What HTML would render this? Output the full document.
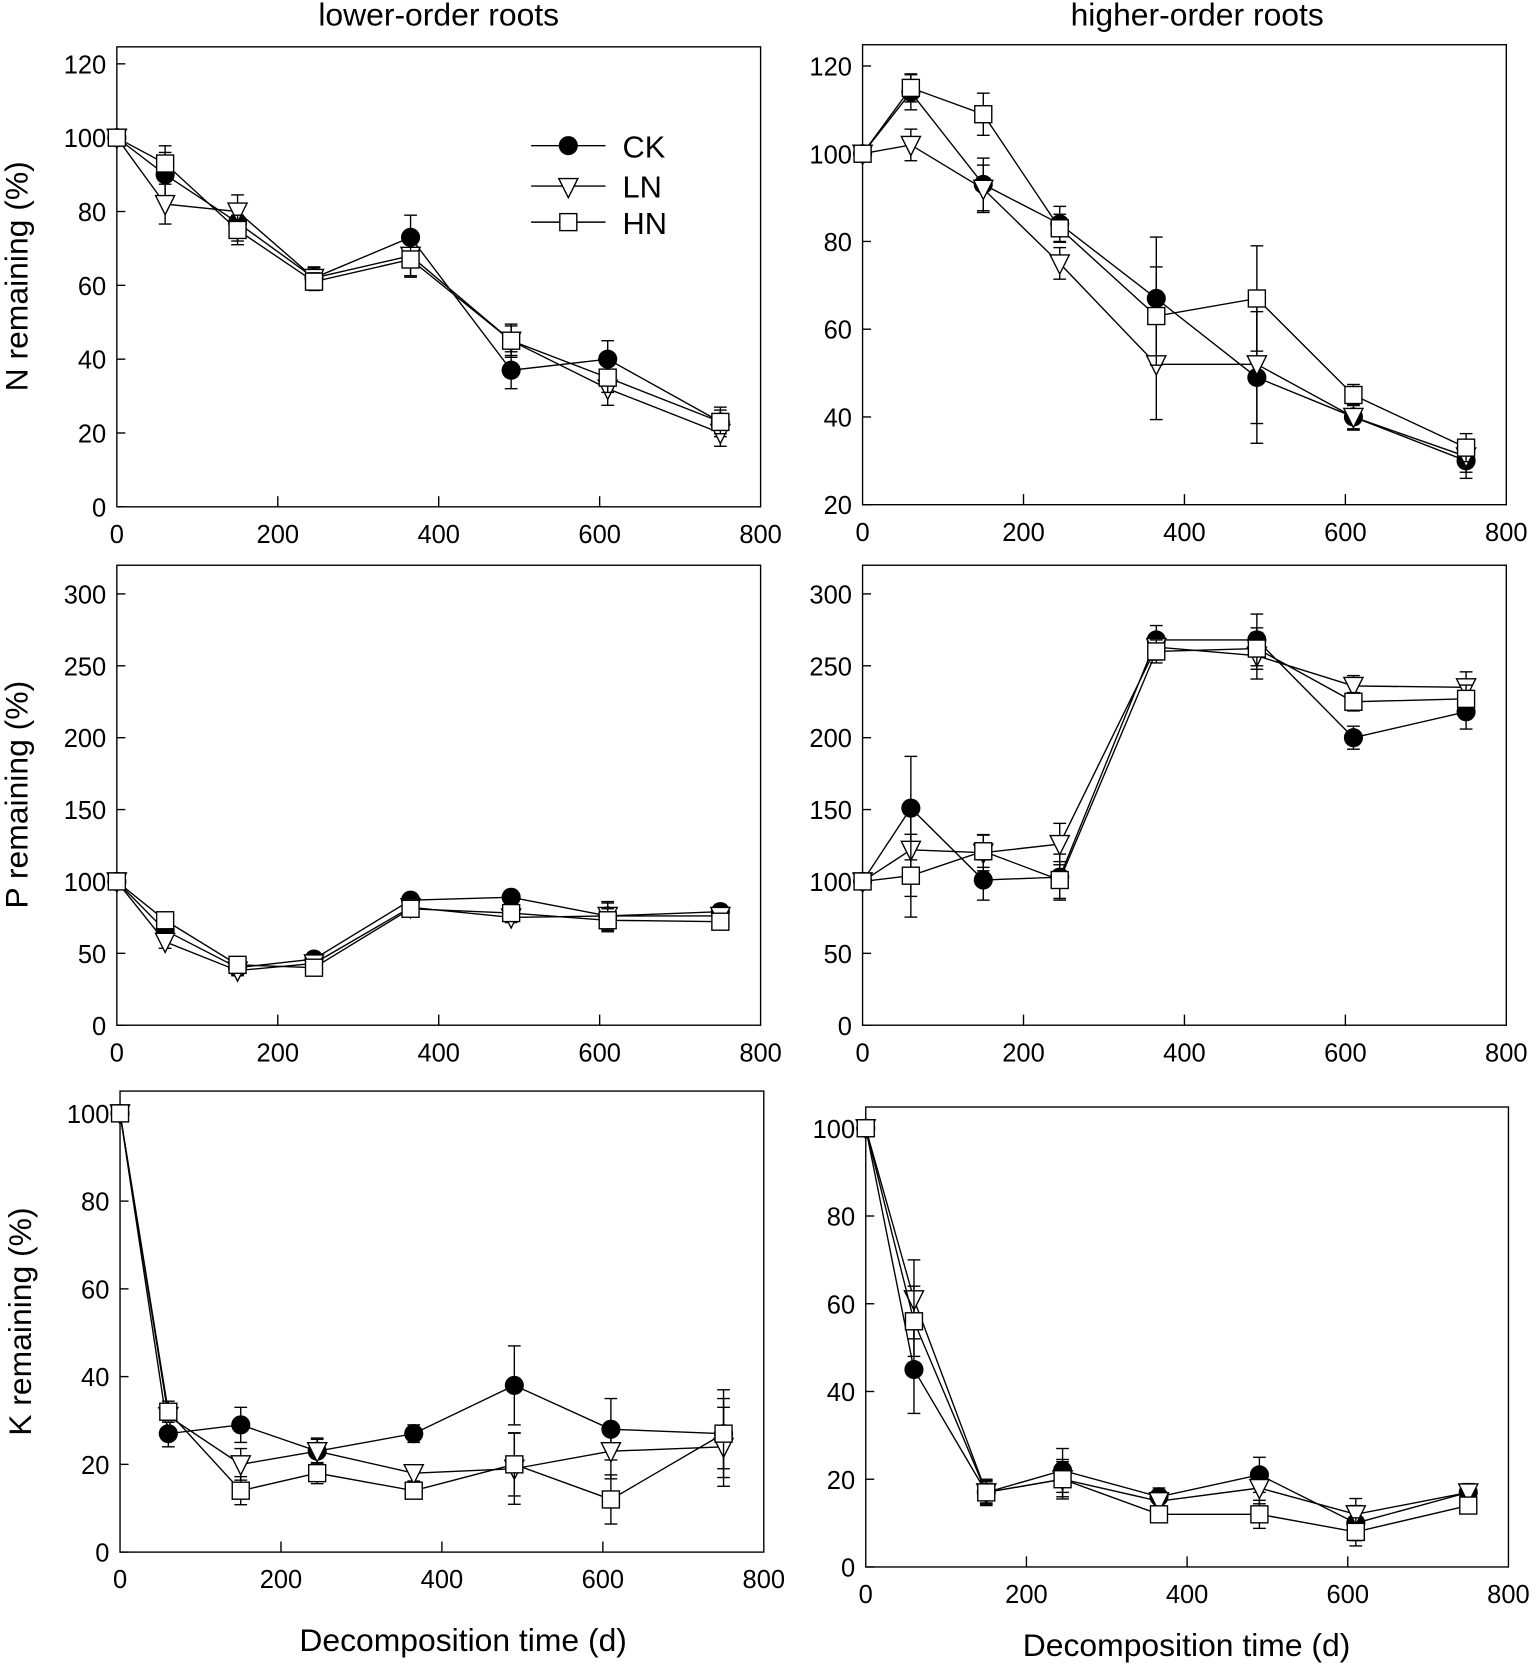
<!DOCTYPE html>
<html><head><meta charset="utf-8"><style>
html,body{margin:0;padding:0;background:#fff;}
svg{display:block;font-family:"Liberation Sans",Arial,sans-serif;}
</style></head><body>
<svg id="chart" width="1535" height="1668" viewBox="0 0 1445 1570" xmlns="http://www.w3.org/2000/svg">
<rect width="1445" height="1570" fill="#fff"/>
<text x="413" y="24" font-size="30" text-anchor="middle">lower-order roots</text>
<text x="1127" y="24" font-size="30" text-anchor="middle">higher-order roots</text>
<text transform="translate(26,260) rotate(-90)" font-size="30" text-anchor="middle">N remaining (%)</text>
<text transform="translate(26,748) rotate(-90)" font-size="30" text-anchor="middle">P remaining (%)</text>
<text transform="translate(29,1244) rotate(-90)" font-size="30" text-anchor="middle">K remaining (%)</text>
<text x="436" y="1554" font-size="30" text-anchor="middle">Decomposition time (d)</text>
<text x="1117" y="1559" font-size="30" text-anchor="middle">Decomposition time (d)</text>
<g>
<line x1="500" y1="137" x2="570" y2="137" stroke="#000" stroke-width="1.3"/><circle cx="535" cy="137" r="9" fill="#000"/><text x="586" y="148" font-size="29">CK</text>
<line x1="500" y1="175" x2="570" y2="175" stroke="#000" stroke-width="1.3"/><path d="M526,168 L544,168 L535,186 Z" fill="#fff" stroke="#000" stroke-width="1.3"/><text x="586" y="186" font-size="29">LN</text>
<line x1="500" y1="209" x2="570" y2="209" stroke="#000" stroke-width="1.3"/><rect x="527" y="201" width="16" height="16" fill="#fff" stroke="#000" stroke-width="1.3"/><text x="586" y="220" font-size="29">HN</text>
</g>
</svg>
<script>
const days = [0, 60, 150, 245, 365, 490, 610, 750];
const xTicks = [0, 200, 400, 600, 800];
const nLowCK = [100, 90, 77, 62, 73, 37, 40, 23];
const nLowLN = [100, 82, 80, 62, 68, 45, 32, 20];
const nLowHN = [100, 93, 75, 61, 67, 45, 35, 23];
const nLowErr = [2, 6, 5, 3, 6, 5, 5, 4];
const nHighCK = [100, 114, 93, 84, 67, 49, 40, 30];
const nHighLN = [100, 102, 92, 75, 52, 52, 40, 31];
const nHighHN = [100, 115, 109, 83, 63, 67, 45, 33];
const nHighErr = [1, 4, 6, 4, 14, 15, 3, 4];
const pLowCK = [100, 66, 40, 46, 87, 89, 76, 79];
const pLowLN = [100, 58, 38, 43, 82, 75, 76, 76];
const pLowHN = [100, 73, 42, 40, 81, 78, 73, 72];
const pLowErr = [2, 5, 4, 4, 4, 4, 10, 4];
const pHighCK = [100, 151, 101, 103, 268, 268, 200, 218];
const pHighLN = [100, 122, 120, 126, 263, 257, 236, 235];
const pHighHN = [100, 104, 121, 101, 260, 262, 225, 227];
const pHighErr = [2, 36, 14, 16, 10, 18, 8, 12];
const kLowCK = [100, 27, 29, 23, 27, 38, 28, 27];
const kLowLN = [100, 31, 20, 23, 18, 19, 23, 24];
const kLowHN = [100, 32, 14, 18, 14, 20, 12, 27];
const kLowErr = [1, 3, 4, 3, 2, 9, 7, 10];
const kHighCK = [100, 45, 17, 22, 16, 21, 10, 17];
const kHighLN = [100, 61, 17, 20, 15, 18, 12, 17];
const kHighHN = [100, 56, 17, 20, 12, 12, 8, 14];
const kHighErr = [1, 10, 3, 5, 2, 4, 4, 2];
const nLowTicks = [0, 20, 40, 60, 80, 100, 120];
const nHighTicks = [20, 40, 60, 80, 100, 120];
const pTicks = [0, 50, 100, 150, 200, 250, 300];
const kTicks = [0, 20, 40, 60, 80, 100];

const svg = document.getElementById('chart');
const NS = 'http://www.w3.org/2000/svg';
function mk(tag, attrs, parent) {
  const e = document.createElementNS(NS, tag);
  for (const k in attrs) e.setAttribute(k, attrs[k]);
  parent.appendChild(e);
  return e;
}
const panels = [
  {id:'n-lower', L:110, R:716, T:44, B:477, y0:477, y1:60, v0:0, v1:120, ticks:nLowTicks, series:[nLowCK,nLowLN,nLowHN], err:nLowErr},
  {id:'n-higher', L:812, R:1418, T:42, B:475, y0:475, y1:62, v0:20, v1:120, ticks:nHighTicks, series:[nHighCK,nHighLN,nHighHN], err:nHighErr},
  {id:'p-lower', L:110, R:716, T:532, B:965, y0:965, y1:559, v0:0, v1:300, ticks:pTicks, series:[pLowCK,pLowLN,pLowHN], err:pLowErr},
  {id:'p-higher', L:812, R:1418, T:532, B:965, y0:965, y1:559, v0:0, v1:300, ticks:pTicks, series:[pHighCK,pHighLN,pHighHN], err:pHighErr},
  {id:'k-lower', L:113, R:719, T:1027, B:1461, y0:1461, y1:1048, v0:0, v1:100, ticks:kTicks, series:[kLowCK,kLowLN,kLowHN], err:kLowErr},
  {id:'k-higher', L:815, R:1420, T:1042, B:1475, y0:1475, y1:1062, v0:0, v1:100, ticks:kTicks, series:[kHighCK,kHighLN,kHighHN], err:kHighErr}
];
const names = ['ck','ln','hn'];
panels.forEach(p => {
  const g = mk('g', {}, svg);
  
  
  const xs = v => p.L + (v / 800) * (p.R - p.L);
  const ys = v => p.y0 + (v - p.v0) / (p.v1 - p.v0) * (p.y1 - p.y0);
  const box = mk('rect', {x:p.L, y:p.T, width:p.R-p.L, height:p.B-p.T, fill:'none', stroke:'#000', 'stroke-width':1.3}, g);
  
  
  xTicks.forEach(t => {
    const x = xs(t);
    if (t > 0 && t < 800) mk('line', {x1:x, y1:p.B, x2:x, y2:p.B-10, stroke:'#000', 'stroke-width':1.3}, g);
    const tx = mk('text', {x:x, y:p.B+34, 'font-size':24, 'text-anchor':'middle'}, g);
    tx.textContent = t;
    
    
  });
  p.ticks.forEach(t => {
    const y = ys(t);
    mk('line', {x1:p.L, y1:y, x2:p.L+8, y2:y, stroke:'#000', 'stroke-width':1.3}, g);
    const ty = mk('text', {x:p.L-10, y:y+9, 'font-size':24, 'text-anchor':'end'}, g);
    ty.textContent = t;
    
    
  });
  p.series.forEach((s, si) => {
    const sg = mk('g', {}, g);
    
    
    const pts = s.map((v, i) => xs(days[i]) + ',' + ys(v)).join(' ');
    mk('polyline', {points:pts, fill:'none', stroke:'#000', 'stroke-width':1.3}, sg);
    s.forEach((v, i) => {
      const x = xs(days[i]), y = ys(v);
      const e = p.err[i] * (si === 0 ? 1 : si === 1 ? 0.9 : 0.8);
      const yt = ys(v + e), yb = ys(v - e);
      mk('line', {x1:x, y1:yt, x2:x, y2:yb, stroke:'#000', 'stroke-width':1.3}, sg);
      mk('line', {x1:x-6, y1:yt, x2:x+6, y2:yt, stroke:'#000', 'stroke-width':1.3}, sg);
      mk('line', {x1:x-6, y1:yb, x2:x+6, y2:yb, stroke:'#000', 'stroke-width':1.3}, sg);
      let m;
      if (si === 0) m = mk('circle', {cx:x, cy:y, r:9, fill:'#000'}, sg);
      else if (si === 1) m = mk('path', {d:`M${x-9},${y-8} L${x+9},${y-8} L${x},${y+10} Z`, fill:'#fff', stroke:'#000', 'stroke-width':1.3}, sg);
      else m = mk('rect', {x:x-8, y:y-8, width:16, height:16, fill:'#fff', stroke:'#000', 'stroke-width':1.3}, sg);
      
      
    });
  });
});
</script>
</body></html>
